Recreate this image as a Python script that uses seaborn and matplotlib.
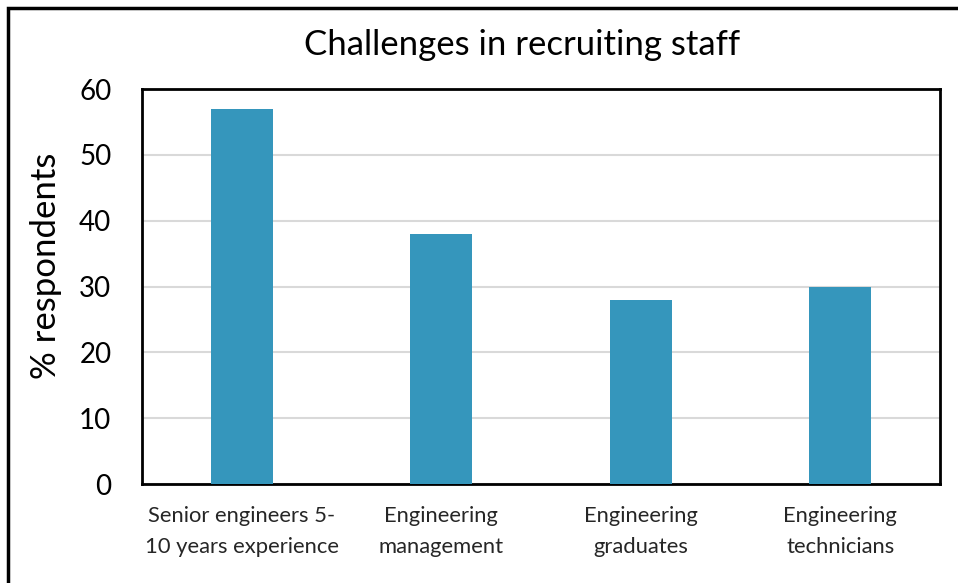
import matplotlib
matplotlib.use("Agg")
import matplotlib.pyplot as plt
import seaborn as sns
import pandas as pd
from matplotlib.patches import Rectangle

categories = ["Senior engineers 5-\n10 years experience", "Engineering\nmanagement",
              "Engineering\ngraduates", "Engineering\ntechnicians"]
values = [57, 38, 28, 30]
y_ticks = [0, 10, 20, 30, 40, 50, 60]

sns.set_theme(style="white")
plt.rcParams["font.family"] = ["Lato", "DejaVu Sans"]

df = pd.DataFrame({"category": categories, "value": values})

fig = plt.figure(figsize=(9.58, 5.83), dpi=100)
ax = fig.add_axes([0.1482, 0.1698, 0.8330, 0.6775])

sns.barplot(data=df, x="category", y="value", color="#3596BC", width=0.31,
            saturation=1, edgecolor="none", linewidth=0, ax=ax, zorder=3)

ax.set_ylim(0, 60)
ax.set_yticks(y_ticks)
ax.set_yticklabels([str(t) for t in y_ticks], fontsize=20, color="#000000")
ax.tick_params(axis="y", length=0, pad=22)
ax.tick_params(axis="x", length=0, pad=16)
for lbl in ax.get_xticklabels():
    lbl.set_fontsize(15.8)
    lbl.set_color("#262626")
    lbl.set_linespacing(1.65)
ax.yaxis.grid(True, color="#d9d9d9", linewidth=1.5, zorder=0)
ax.set_axisbelow(True)
ax.set_xlabel("")
ax.set_ylabel("% respondents", fontsize=25, color="#000000")
ax.yaxis.set_label_coords(-0.100, 0.552)

for s in ax.spines.values():
    s.set_visible(True)
    s.set_color("#000000")
    s.set_linewidth(2)

fig.text(0.545, 0.922, "Challenges in recruiting staff", ha="center", va="center",
         fontsize=25, color="#000000")

# outer chart frame
fig.patches.append(Rectangle((8 / 958, -0.05), 1.1, (583 - 8) / 583 + 0.05,
                             transform=fig.transFigure, fill=False,
                             edgecolor="#000000", linewidth=2.5, zorder=10))

fig.savefig("out.png", dpi=100, facecolor="white")
